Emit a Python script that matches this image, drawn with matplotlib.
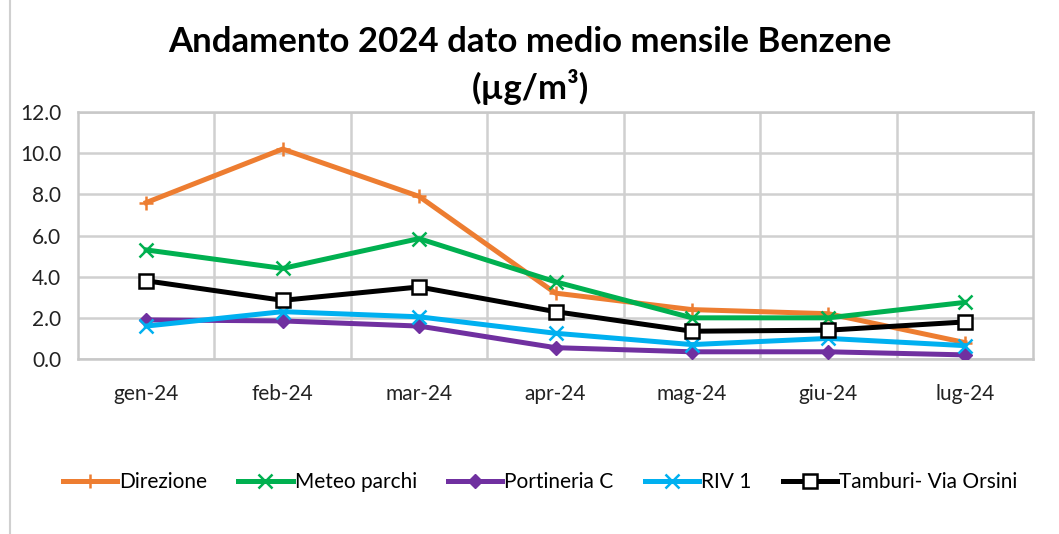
import matplotlib
matplotlib.use("Agg")
import matplotlib.pyplot as plt
from matplotlib.lines import Line2D
import numpy as np

plt.rcParams['font.family'] = ['Lato', 'DejaVu Sans']

months = ['gen-24', 'feb-24', 'mar-24', 'apr-24', 'mag-24', 'giu-24', 'lug-24']
direzione = [7.6, 10.2, 7.9, 3.2, 2.4, 2.2, 0.8]
meteo_parchi = [5.3, 4.4, 5.85, 3.75, 2.0, 2.0, 2.75]
portineria_c = [1.9, 1.85, 1.6, 0.55, 0.35, 0.35, 0.2]
riv1 = [1.6, 2.3, 2.05, 1.25, 0.7, 1.0, 0.65]
tamburi = [3.8, 2.85, 3.5, 2.3, 1.35, 1.4, 1.8]

series = [
    ('Direzione', direzione, '#ED7D31', '+'),
    ('Meteo parchi', meteo_parchi, '#00B050', 'x'),
    ('Portineria C', portineria_c, '#7030A0', 'D'),
    ('RIV 1', riv1, '#00B0F0', 'x'),
    ('Tamburi- Via Orsini', tamburi, '#000000', 's'),
]

fig = plt.figure(figsize=(10.59, 5.34), dpi=100)
ax = fig.add_axes([78/1059, 1-359/534, (1033-78)/1059, (359-112)/534])

x = np.arange(len(months))
handles = []
for name, vals, col, mk in series:
    if mk == 's':
        ln, = ax.plot(x, vals, color=col, linewidth=3.6, marker=mk, markersize=10,
                      markerfacecolor='white', markeredgecolor=col, markeredgewidth=1.8,
                      label=name, zorder=3)
    elif mk == 'D':
        ln, = ax.plot(x, vals, color=col, linewidth=3.6, marker=mk, markersize=7,
                      label=name, zorder=3)
    else:
        ln, = ax.plot(x, vals, color=col, linewidth=3.6, marker=mk, markersize=10,
                      markeredgewidth=1.8, label=name, zorder=3)
    handles.append(ln)

ax.set_xlim(-0.5, len(months) - 0.5)
ax.set_ylim(0, 12)
ax.set_yticks(np.arange(0, 12.1, 2))
ax.set_yticklabels(['{:.1f}'.format(v) for v in np.arange(0, 12.1, 2)])
ax.set_xticks(x)
ax.set_xticklabels(months)
ax.set_xticks(np.arange(0.5, len(months) - 0.5, 1), minor=True)

# gridlines: horizontal at majors, vertical between categories
ax.grid(True, axis='y', which='major', color='#D0D0D0', linewidth=1.8)
ax.grid(True, axis='x', which='minor', color='#D0D0D0', linewidth=1.8)
ax.grid(False, axis='x', which='major')
ax.set_axisbelow(True)

for s in ax.spines.values():
    s.set_color('#C8C8C8')
    s.set_linewidth(1.8)

ax.tick_params(axis='both', which='both', length=0, labelsize=15, colors='#222222')
ax.tick_params(axis='x', pad=18)
ax.tick_params(axis='y', pad=12)

fig.text(530/1059, 1-42/534, 'Andamento 2024 dato medio mensile Benzene',
         ha='center', va='center', fontsize=25, fontweight='bold')
fig.text(530/1059, 1-87/534, '(µg/m³)',
         ha='center', va='center', fontsize=25, fontweight='bold')

fig.legend(handles=handles, loc='center', bbox_to_anchor=(540/1059, 1-482/534),
           ncol=5, frameon=False, fontsize=15, handlelength=2.6, handletextpad=0.1,
           columnspacing=1.5)

# outer chart border on the left
fig.add_artist(Line2D([10/1059, 10/1059], [0, 1], color='#D0D0D0', linewidth=1.5))

fig.savefig('out.png', dpi=100)
